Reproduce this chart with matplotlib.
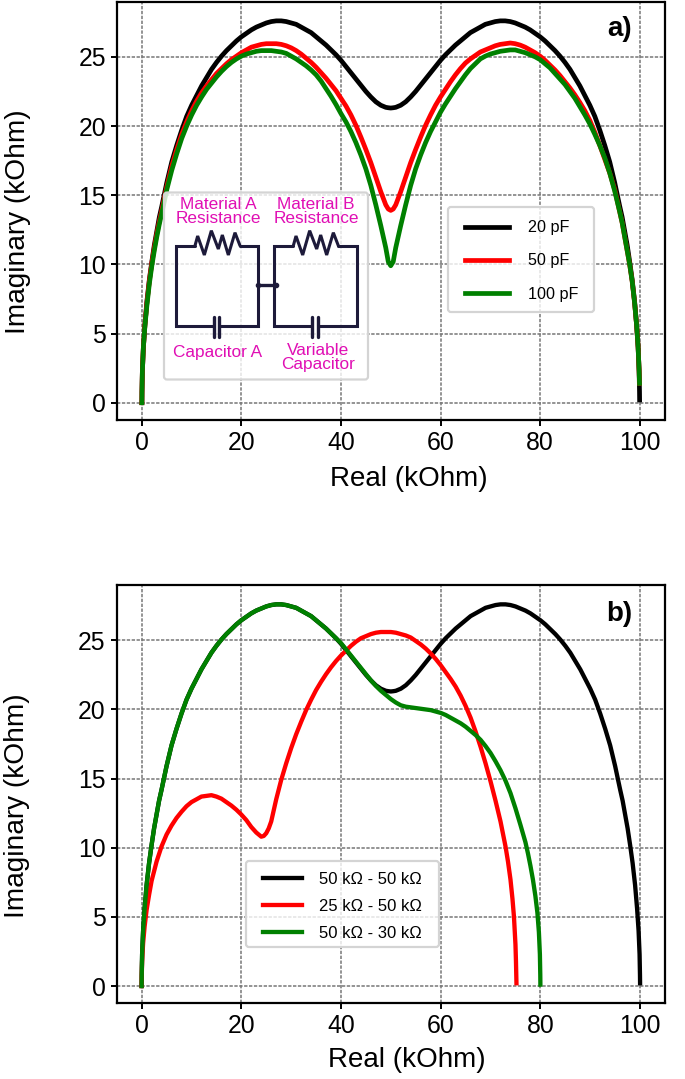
import matplotlib
matplotlib.use("Agg")
import matplotlib.pyplot as plt
from matplotlib.patches import FancyBboxPatch

plt.rcParams['font.family'] = ['Liberation Sans', 'DejaVu Sans']

W, H = 685, 1079

a_labels = ['20 pF', '50 pF', '100 pF']
b_labels = ['50 kΩ - 50 kΩ', '25 kΩ - 50 kΩ', '50 kΩ - 30 kΩ']
line_colors = ['black', 'red', 'green']

shared_x = [0, .02, .1, .3, .6, 1, 1.5, 2, 2.5, 3, 3.5, 4,
            5, 6, 7, 8, 9, 10, 11, 12, 13, 14, 15, 16, 17, 18, 19, 20, 21, 22, 23, 24, 25, 26, 27, 28, 29,
            30, 31, 32, 33, 34, 35, 36, 37, 38, 39, 40, 41, 42, 43, 44, 45, 46, 47, 48, 49, 49.5,
            50, 50.5, 51, 52, 53, 54, 55, 56, 57, 58, 59, 60, 61, 62, 63, 64, 65, 66, 67, 68, 69,
            70, 71, 72, 73, 74, 75, 76, 77, 78, 79, 80, 81, 82, 83, 84, 85, 86, 87, 88, 89,
            90, 91, 92, 93, 94, 95, 96, 96.5, 97, 97.5, 98, 98.5, 99, 99.4, 99.7, 99.9, 99.98]

black_y = [0, .8, 2.3, 4, 5.6, 7.3, 8.9, 10.2, 11.4, 12.4, 13.4, 14.2,
           15.9, 17.4, 18.6, 19.7, 20.7, 21.5, 22.2, 22.9, 23.5, 24.1, 24.6, 25.05, 25.45, 25.8, 26.15, 26.45, 26.7, 26.95, 27.15, 27.3, 27.45, 27.55, 27.6, 27.6, 27.55,
           27.45, 27.35, 27.15, 26.95, 26.75, 26.45, 26.15, 25.85, 25.5, 25.15, 24.75, 24.3, 23.85, 23.4, 22.95, 22.5, 22.1, 21.75, 21.5, 21.35, 21.32,
           21.3, 21.32, 21.35, 21.5, 21.75, 22.1, 22.5, 22.95, 23.4, 23.85, 24.3, 24.75, 25.15, 25.5, 25.85, 26.15, 26.45, 26.75, 26.95, 27.15, 27.35,
           27.45, 27.55, 27.6, 27.6, 27.55, 27.45, 27.3, 27.15, 26.95, 26.7, 26.45, 26.15, 25.8, 25.45, 25.05, 24.6, 24.1, 23.5, 22.9, 22.2,
           21.5, 20.7, 19.7, 18.6, 17.4, 15.9, 14.2, 13.4, 12.4, 11.4, 10.2, 8.9, 7.3, 5.6, 4, 2.3, .8]

a_red_y = [0, .8, 2.3, 4, 5.6, 7.2, 8.8, 10.1, 11.2, 12.2, 13.1, 13.9,
           15.6, 17.1, 18.3, 19.4, 20.3, 21.1, 21.8, 22.4, 22.9, 23.35, 23.8, 24.15, 24.5, 24.8, 25.05, 25.3, 25.5, 25.7, 25.8, 25.9, 25.95, 25.95, 25.95, 25.9, 25.8,
           25.65, 25.45, 25.2, 24.9, 24.6, 24.25, 23.85, 23.45, 23, 22.55, 22, 21.45, 20.8, 20.05, 19.2, 18.3, 17.35, 16.3, 15.25, 14.3, 14.0,
           13.9, 14.0, 14.3, 15.25, 16.3, 17.35, 18.3, 19.2, 20.05, 20.8, 21.5, 22.1, 22.65, 23.2, 23.7, 24.15, 24.55, 24.85, 25.1, 25.35, 25.5,
           25.65, 25.8, 25.9, 25.95, 26, 25.95, 25.85, 25.7, 25.5, 25.3, 25.05, 24.75, 24.4, 24.05, 23.65, 23.2, 22.75, 22.25, 21.7, 21.1,
           20.4, 19.55, 18.6, 17.6, 16.6, 15.4, 13.8, 13, 12, 11, 10, 8.8, 7.2, 5.6, 4, 2.3, 1.4]

a_green_y = [0, .8, 2.3, 4, 5.5, 7, 8.6, 9.9, 11, 12, 12.9, 13.7,
             15.4, 16.8, 18, 19.1, 20, 20.8, 21.5, 22.1, 22.65, 23.1, 23.55, 23.95, 24.3, 24.6, 24.85, 25.05, 25.2, 25.3, 25.4, 25.45, 25.45, 25.45, 25.4, 25.35, 25.25,
             25.05, 24.85, 24.6, 24.35, 24.05, 23.7, 23.25, 22.7, 22.15, 21.55, 20.9, 20.3, 19.6, 18.8, 17.9, 16.9, 15.7, 14.3, 12.8, 11.2, 10.2,
             9.9, 10.2, 11.2, 12.8, 14.3, 15.7, 16.9, 17.9, 18.8, 19.6, 20.3, 21, 21.6, 22.15, 22.7, 23.2, 23.7, 24.15, 24.5, 24.85, 25.05,
             25.2, 25.3, 25.4, 25.45, 25.5, 25.5, 25.4, 25.3, 25.15, 25, 24.8, 24.5, 24.2, 23.8, 23.4, 23, 22.5, 22, 21.4, 20.8,
             20.15, 19.4, 18.6, 17.7, 16.6, 15.3, 13.8, 13, 12, 11, 10, 8.8, 7.2, 5.6, 4, 2.3, 1.4]

black_end_x = [100]
black_end_y = [0.2]

b_red_x = [0, .02, .1, .3, .6, 1, 1.5, 2, 2.5, 3, 4, 5, 6, 7, 8, 9, 10, 11, 12, 13, 14, 15, 16, 17, 18, 19, 20, 21, 22, 23, 24, 24.5,
           25, 25.5, 26, 26.5, 27, 28, 29, 30, 31, 32, 33, 34, 35, 36, 37, 38, 39, 40, 41, 42, 43, 44, 45, 46, 47, 48, 49,
           50, 51, 52, 53, 54, 55, 56, 57, 58, 59, 60, 61, 62, 63, 64, 65, 66, 67, 68, 69, 70, 71, 72, 73, 73.5, 74, 74.4, 74.7, 75, 75.1, 75.2]
b_red_y = [0, .7, 1.8, 3.1, 4.3, 5.5, 6.6, 7.6, 8.3, 9, 10.1, 10.95, 11.6, 12.15, 12.6, 13, 13.3, 13.5, 13.7, 13.75, 13.8, 13.7, 13.55, 13.3, 13.05, 12.75, 12.4, 12, 11.5, 11.1, 10.8, 10.85,
           11.05, 11.4, 11.9, 12.7, 13.5, 14.9, 16.1, 17.2, 18.2, 19.1, 19.95, 20.7, 21.4, 22, 22.55, 23.05, 23.5, 23.9, 24.25, 24.6, 24.9, 25.15, 25.3, 25.45, 25.55, 25.6, 25.6,
           25.6, 25.55, 25.45, 25.35, 25.2, 24.95, 24.7, 24.4, 24.05, 23.65, 23.2, 22.7, 22.2, 21.65, 21, 20.25, 19.4, 18.4, 17.3, 16.1, 14.8, 13.4, 11.9, 10.1, 9, 7.7, 6.3, 5, 3, 1.8, .2]

b_green_x = [0, .02, .1, .3, .6, 1, 1.5, 2, 2.5, 3, 3.5, 4,
             5, 6, 7, 8, 9, 10, 11, 12, 13, 14, 15, 16, 17, 18, 19, 20, 21, 22, 23, 24, 25, 26, 27, 28, 29,
             30, 31, 32, 33, 34, 35, 36, 37, 38, 39, 40, 41, 42, 43, 44, 45, 46, 47, 48, 49,
             50, 51, 52, 53, 54, 55, 56, 57, 58, 59, 60, 61, 62, 63, 64, 65, 66, 67, 68, 69,
             70, 71, 72, 73, 74, 75, 76, 77, 77.5, 78, 78.5, 79, 79.4, 79.7, 79.9, 79.98, 80]
b_green_y = [0, .8, 2.3, 4, 5.6, 7.3, 8.9, 10.2, 11.4, 12.4, 13.4, 14.2,
             15.9, 17.4, 18.6, 19.7, 20.7, 21.5, 22.2, 22.9, 23.5, 24.1, 24.6, 25.05, 25.45, 25.8, 26.15, 26.45, 26.7, 26.95, 27.15, 27.3, 27.45, 27.55, 27.6, 27.6, 27.55,
             27.45, 27.35, 27.15, 26.95, 26.75, 26.45, 26.15, 25.85, 25.5, 25.15, 24.8, 24.35, 23.9, 23.45, 23, 22.55, 22.1, 21.7, 21.35, 21.05,
             20.75, 20.5, 20.3, 20.2, 20.15, 20.1, 20.05, 20, 19.95, 19.85, 19.75, 19.6, 19.4, 19.2, 19, 18.75, 18.45, 18.15, 17.8, 17.35,
             16.85, 16.25, 15.6, 14.85, 13.95, 12.85, 11.65, 10.4, 9.6, 8.7, 7.7, 6.5, 5.3, 3.9, 2.3, .8, .1]

x_ticks = [0, 20, 40, 60, 80, 100]
y_ticks = [0, 5, 10, 15, 20, 25]

fig = plt.figure(figsize=(W / 100, H / 100), dpi=100, facecolor='white')


def make_axes(left, right, top, bottom):
    ax = fig.add_axes([left / W, 1 - bottom / H, (right - left) / W, (bottom - top) / H])
    ax.set_xlim(-5, 105)
    ax.set_ylim(-1.25, 29)
    ax.set_xticks(x_ticks)
    ax.set_yticks(y_ticks)
    ax.tick_params(labelsize=17.8, width=1.4, length=4.5, pad=3.5)
    ax.grid(True, color='#777777', linewidth=1.1, linestyle=(0, (2.2, 1)))
    ax.set_axisbelow(True)
    for s in ax.spines.values():
        s.set_linewidth(1.6)
    return ax


def add_legend(ax, box, anchor, fs, hl, hp, ls):
    # frame drawn at the reference's size, legend content placed on top of it
    x0, y0, x1, y1 = box
    ax.add_patch(FancyBboxPatch((x0 + 3, H - y1 + 3), x1 - x0 - 6, y1 - y0 - 6,
                                boxstyle='round,pad=3,rounding_size=3', transform=None,
                                facecolor=(1, 1, 1, 0.8), edgecolor='#d4d4d4', linewidth=1.6, zorder=4))
    ax.legend(loc='center', bbox_to_anchor=anchor, fontsize=fs, handlelength=hl, handletextpad=hp,
              labelspacing=ls, borderpad=0.5, frameon=False)


ax_a = make_axes(117, 664.5, 1.5, 420)
ax_b = make_axes(116.7, 665, 585, 1003.3)

a_series = [(shared_x + black_end_x, black_y + black_end_y), (shared_x, a_red_y), (shared_x, a_green_y)]
b_series = [(shared_x + black_end_x, black_y + black_end_y), (b_red_x, b_red_y), (b_green_x, b_green_y)]
for (sx, sy), c, l in zip(a_series, line_colors, a_labels):
    ax_a.plot(sx, sy, color=c, lw=3.4, label=l)
for (sx, sy), c, l in zip(b_series, line_colors, b_labels):
    ax_b.plot(sx, sy, color=c, lw=3.1, label=l)

add_legend(ax_a, (448, 207, 594, 312), (0.739, 0.380), 11.6, 2.75, 1.2, 1.12)
add_legend(ax_b, (246, 861, 439, 947), (0.412, 0.231), 12, 2.35, 1.0, 0.72)

ax_a.set_xlabel('Real (kOhm)', fontsize=20, va='center')
ax_a.xaxis.set_label_coords(0.533, -0.141)
ax_a.set_ylabel('Imaginary (kOhm)', fontsize=20.2, va='center')
ax_a.yaxis.set_label_coords(-0.180, 0.474)
ax_b.set_xlabel('Real (kOhm)', fontsize=20, va='center')
ax_b.xaxis.set_label_coords(0.529, -0.1355)
ax_b.set_ylabel('Imaginary (kOhm)', fontsize=20.2, va='center')
ax_b.yaxis.set_label_coords(-0.1825, 0.472)

ax_a.text(0.895, 0.935, 'a)', transform=ax_a.transAxes, fontsize=20, fontweight='bold', ha='left', va='center')
ax_b.text(0.893, 0.93, 'b)', transform=ax_b.transAxes, fontsize=20, fontweight='bold', ha='left', va='center')

# Inset schematic, in reference pixel coordinates
ov = fig.add_axes([0, 0, 1, 1], zorder=5)
ov.set_xlim(0, W)
ov.set_ylim(H, 0)
ov.axis('off')
ov.patch.set_alpha(0)

ov.add_patch(FancyBboxPatch((167, 195.5), 198, 181, boxstyle='round,pad=3,rounding_size=3',
                            facecolor=(1, 1, 1, 0.8), edgecolor='#d4d4d4', linewidth=1.6))

ink = '#1d1a3a'


def zx(v):
    return 150 + v / 3


def zy(v):
    return 180 + v / 3


def wire(xs, ys, lw=2.2):
    ov.plot([zx(v) for v in xs], [zy(v) for v in ys], color=ink, lw=lw, solid_joinstyle='miter',
            solid_capstyle='round')


loops = [(77, 323, 0), (372, 620, 295)]
for left, right, dx in loops:
    wire([135 + dx, left, left, 192 + dx], [197, 197, 438, 438])
    wire([208 + dx, right, right, 270 + dx], [438, 438, 197, 197])
    wire([135 + dx, 143 + dx, 163 + dx, 184 + dx, 205 + dx, 217 + dx, 235 + dx, 255 + dx, 270 + dx],
         [197, 168, 225, 152, 207, 165, 225, 158, 197])
    wire([192 + dx, 192 + dx], [412, 470], lw=2.4)
    wire([208 + dx, 208 + dx], [412, 470], lw=2.4)
wire([323, 377], [315, 315], lw=2.4)
ov.plot([zx(323), zx(377)], [zy(315), zy(315)], 'o', color=ink, ms=3)

magenta = '#e00fb4'
for txt, X, Y in (('Material A\nResistance', 205, 94), ('Material B\nResistance', 498, 94),
                  ('Capacitor A', 202, 516), ('Variable\nCapacitor', 505, 532)):
    ov.text(zx(X), zy(Y), txt, color=magenta, fontsize=12.4, ha='center', va='center',
            linespacing=0.92, multialignment='center')

fig.savefig('out.png', dpi=100)
